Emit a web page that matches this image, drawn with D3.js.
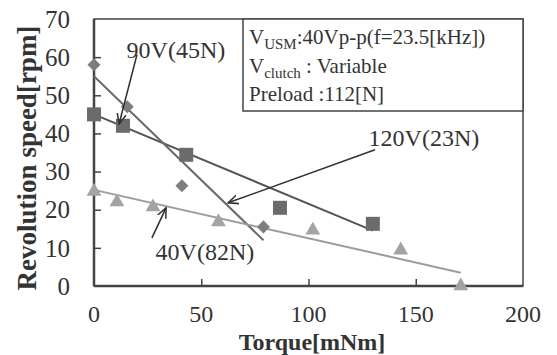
<!DOCTYPE html>
<html>
<head>
<meta charset="utf-8">
<script src="https://cdn.jsdelivr.net/npm/d3@7"></script>
<style>
  body { margin: 0; background: #fff; }
  text { font-family: "Liberation Serif", "Times New Roman", serif; fill: #333; }
</style>
</head>
<body>
<div id="chart"></div>
<script>
// data: torque [mNm], speed [rpm]
const torque90 = [0, 13.5, 43, 86.7, 130];
const speed90 = [45, 42, 34.4, 20.5, 16.3];
const fit90 = [[0, 45], [130, 14.5]];

const torque120 = [0, 15.5, 41, 79];
const speed120 = [58, 47, 26.3, 15.5];
const fit120 = [[0, 55], [79, 12]];

const torque40 = [0, 10.7, 27.5, 58, 102, 143, 171];
const speed40 = [24.8, 22, 20.7, 16.8, 14.6, 9.4, 0];
const fit40 = [[0, 25.2], [171, 3.5]];

const xTicks = [0, 50, 100, 150, 200];
const yTicks = [0, 10, 20, 30, 40, 50, 60, 70];

// labels: text position and arrow (from -> to), in data units
const notes = [
  { label: "90V(45N)", tx: 38.2, ty: 61.9, from: [20, 60.6], to: [11.7, 42.5] },
  { label: "120V(23N)", tx: 153.8, ty: 38.8, from: [131, 35.7], to: [62.5, 21.8] },
  { label: "40V(82N)", tx: 51.7, ty: 8.9, from: [27, 12.6], to: [33.6, 20.5] }
];

const width = 557, height = 355;
const margin = { top: 19, left: 94, right: 34, bottom: 69 };

const svg = d3.select("#chart").append("svg")
    .attr("width", width)
    .attr("height", height);

const x = d3.scaleLinear().domain([0, 200]).range([margin.left, width - margin.right]);
const y = d3.scaleLinear().domain([0, 70]).range([height - margin.bottom, margin.top]);

svg.append("defs").append("marker")
    .attr("id", "arr")
    .attr("viewBox", "0 0 10 10")
    .attr("refX", 9).attr("refY", 5)
    .attr("markerWidth", 7).attr("markerHeight", 7)
    .attr("orient", "auto")
  .append("path")
    .attr("d", "M0,1 L9,5 L0,9")
    .attr("fill", "none")
    .attr("stroke", "#333")
    .attr("stroke-width", 1.4);

// plot frame
svg.append("rect")
    .attr("x", x(0)).attr("y", y(70))
    .attr("width", x(200) - x(0)).attr("height", y(0) - y(70))
    .attr("fill", "none").attr("stroke", "#444").attr("stroke-width", 1.5);

// axes, ticks pointing inward
const yAxis = svg.append("g")
    .attr("transform", `translate(${x(0)},0)`)
    .call(d3.axisRight(y).tickValues(yTicks.slice(1, -1)).tickSize(7).tickFormat(""));
yAxis.select(".domain").remove();

const xAxis = svg.append("g")
    .attr("transform", `translate(0,${y(0)})`)
    .call(d3.axisTop(x).tickValues(xTicks.slice(1, -1)).tickSize(7).tickFormat(""));
xAxis.select(".domain").remove();
svg.selectAll(".tick line").attr("stroke", "#444").attr("stroke-width", 1.5);

svg.append("line")
    .attr("x1", x(0)).attr("x2", x(0)).attr("y1", y(70)).attr("y2", y(0))
    .attr("stroke", "#444").attr("stroke-width", 2.5);
svg.append("line")
    .attr("x1", x(0)).attr("x2", x(200)).attr("y1", y(0)).attr("y2", y(0))
    .attr("stroke", "#444").attr("stroke-width", 2.5);

// tick labels
svg.selectAll(".ylab").data(yTicks).enter().append("text")
    .attr("x", x(0) - 24).attr("y", d => y(d))
    .attr("dy", "0.35em").attr("text-anchor", "end")
    .style("font-size", "25px")
    .text(d => d);

svg.selectAll(".xlab").data(xTicks).enter().append("text")
    .attr("x", d => x(d)).attr("y", y(0) + 28)
    .attr("dy", "0.35em").attr("text-anchor", "middle")
    .style("font-size", "24px")
    .text(d => d);

// axis titles
svg.append("text")
    .attr("x", 312).attr("y", 349.5)
    .attr("text-anchor", "middle")
    .style("font-size", "24px").style("font-weight", "bold")
    .text("Torque[mNm]");

svg.append("text")
    .attr("transform", "rotate(-90)")
    .attr("x", -158).attr("y", 36)
    .attr("text-anchor", "middle")
    .style("font-size", "27px").style("font-weight", "bold")
    .text("Revolution speed[rpm]");

// fitted lines
const line = d3.line().x(d => x(d[0])).y(d => y(d[1]));
[[fit90, "#555"], [fit120, "#6a6a6a"], [fit40, "#9c9c9c"]].forEach(function(f) {
  svg.append("path").datum(f[0])
      .attr("d", line)
      .attr("fill", "none").attr("stroke", f[1]).attr("stroke-width", 2);
});

// markers
svg.selectAll(".sq").data(torque90).enter().append("rect")
    .attr("x", d => x(d) - 7).attr("y", (d, i) => y(speed90[i]) - 7)
    .attr("width", 14).attr("height", 14)
    .attr("fill", "#6b6b6b");

svg.selectAll(".dm").data(torque120).enter().append("path")
    .attr("d", d3.symbol(d3.symbolSquare, 85))
    .attr("transform", (d, i) => `translate(${x(d)},${y(speed120[i])}) rotate(45)`)
    .attr("fill", "#7d7d7d");

svg.selectAll(".tr").data(torque40).enter().append("path")
    .attr("d", d3.symbol(d3.symbolTriangle, 95))
    .attr("transform", (d, i) => `translate(${x(d)},${y(speed40[i])})`)
    .attr("fill", "#a3a3a3");

// legend box
const box = svg.append("g");
box.append("rect")
    .attr("x", 243).attr("y", y(70))
    .attr("width", x(200) - 243).attr("height", 92)
    .attr("fill", "#fff").attr("stroke", "#444").attr("stroke-width", 1.5);

const l1 = box.append("text").attr("x", 249).attr("y", 44).style("font-size", "21px");
l1.append("tspan").text("V");
l1.append("tspan").attr("dy", 5).style("font-size", "15px").text("USM");
l1.append("tspan").attr("dy", -5).text(":40Vp-p(f=23.5[kHz])");

const l2 = box.append("text").attr("x", 249).attr("y", 73).style("font-size", "21px");
l2.append("tspan").text("V");
l2.append("tspan").attr("dy", 5).style("font-size", "15px").text("clutch");
l2.append("tspan").attr("dy", -5).text(" : Variable");

box.append("text").attr("x", 249).attr("y", 101).style("font-size", "21px")
    .text("Preload :112[N]");

// series labels with arrows
notes.forEach(function(n) {
  svg.append("line")
      .attr("x1", x(n.from[0])).attr("y1", y(n.from[1]))
      .attr("x2", x(n.to[0])).attr("y2", y(n.to[1]))
      .attr("stroke", "#333").attr("stroke-width", 1.6)
      .attr("marker-end", "url(#arr)");
  svg.append("text")
      .attr("x", x(n.tx)).attr("y", y(n.ty))
      .attr("dy", "0.35em").attr("text-anchor", "middle")
      .style("font-size", "24px")
      .text(n.label);
});
</script>
</body>
</html>
